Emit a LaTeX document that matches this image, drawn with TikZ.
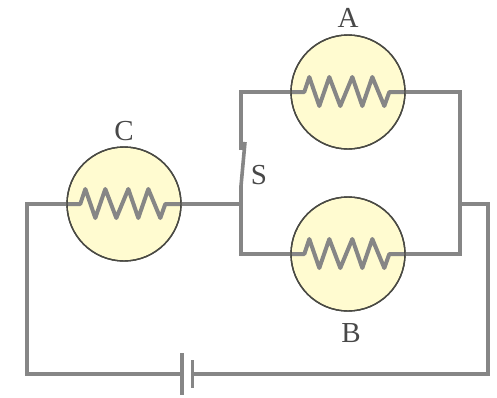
\documentclass[tikz,border=0pt]{standalone}
\usepackage{fontspec}
\setmainfont{Liberation Serif}
\definecolor{wire gray}{HTML}{868686}
\definecolor{lamp yellow}{HTML}{FFFBD0}
\definecolor{lamp edge}{HTML}{4A4A44}
\definecolor{label gray}{HTML}{484848}
\tikzset{
  lamp/.style={circle, fill=lamp yellow, draw=lamp edge, line width=1.4pt, minimum size=114pt, inner sep=0pt},
  wire/.style={draw=wire gray, line width=3.6pt, line join=miter},
  coil/.style={draw=wire gray, line width=4pt, line join=round},
  plate/.style={draw=wire gray, line width=3.6pt},
  lbl/.style={text=label gray, font=\fontsize{29}{34}\selectfont, inner sep=0pt}
  }
\begin{document}
\begin{tikzpicture}[x=1pt, y=-1pt]
  \useasboundingbox (0, 0) rectangle (497, 397);

  \foreach \pos/\name in {{(348, 92)/lampA}, {(348, 254)/lampB}, {(124, 204)/lampC}} {
    \node[lamp] (\name) at \pos {};
    \draw[coil] (\name.west) -- ++(14, 0) -- ++(5, -15) -- ++(10, 29) -- ++(10, -29)
      -- ++(11, 29) -- ++(12, -29) -- ++(10, 29) -- ++(10, -29) -- ++(12, 29) -- ++(5, -14) -- (\name.east);
    \node[lamp, fill=none] at \pos {};
  }

  \node[lbl] (labelA) at (348, 18) {A};
  \node[lbl] (labelB) at (351, 333) {B};
  \node[lbl] (labelC) at (124, 131) {C};
  \node[lbl] (labelS) at (259, 175) {S};

  \coordinate (hinge) at (241, 204);
  \coordinate (pivot) at (241, 186);
  \coordinate (tip) at (245, 142);
  \coordinate (contact) at (241, 150);
  \coordinate (joint) at (460, 204);
  \coordinate (plateLong) at (182, 374);
  \coordinate (plateShort) at (192.5, 374);

  \path[wire] (lampC.east) -- (hinge);
  \path[wire] (contact) -- (241, 92) -- (lampA.west);
  \path[wire] (hinge) -- (pivot) -- (tip);
  \path[wire] (hinge) -- (241, 254) -- (lampB.west);
  \path[wire] (lampA.east) -- (460, 92) -- (460, 254) -- (lampB.east);
  \path[wire] (joint) -- (488, 204) -- (488, 374) -- (plateShort);
  \path[wire] (lampC.west) -- (27, 204) -- (27, 374) -- (plateLong);

  \path[plate] (182, 353) -- (plateLong) -- (182, 395);
  \path[plate] (192.5, 360) -- (plateShort) -- (192.5, 388);
\end{tikzpicture}
\end{document}
